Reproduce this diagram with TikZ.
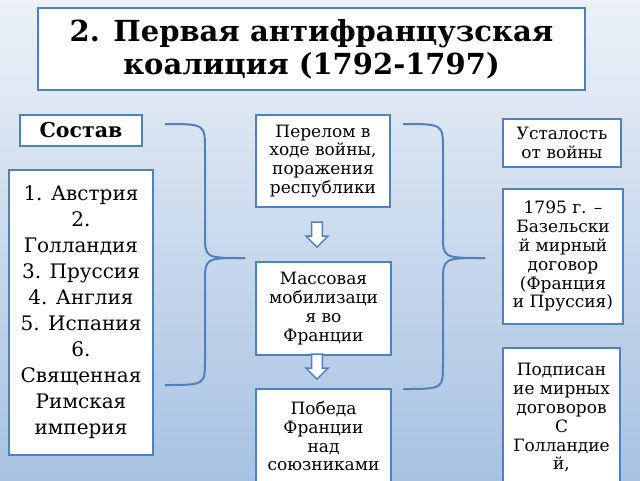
\documentclass[tikz,border=0pt]{standalone}
\usepackage{fontspec}
\setmainfont{DejaVu Serif}
\usetikzlibrary{shapes.arrows}
\definecolor{frameblue}{RGB}{79,129,189}
\definecolor{bgtop}{RGB}{236,241,248}
\definecolor{bgbottom}{RGB}{168,194,226}

\begin{document}
\begin{tikzpicture}[x=1pt,y=-1pt,semithick]
\tikzset{box/.style={draw=frameblue,line width=1.6pt,fill=white,align=center,inner sep=1pt},
         txt/.style={font=\fontsize{17}{18.8}\selectfont},
         brace/.style={draw=frameblue,line width=2pt},
         downarrow/.style={single arrow,draw=frameblue,fill=white,line width=1.5pt,
                           shape border rotate=270,minimum height=25pt,minimum width=22pt,
                           single arrow head extend=4pt,inner sep=3pt}}

  \shade[top color=bgtop,bottom color=bgbottom] (0,0) rectangle (640,480);
  \useasboundingbox (0,0) rectangle (640,480);

        \node[box,minimum width=547pt,minimum height=82pt,font=\fontsize{29}{33}\selectfont\bfseries]
              (title) at (311.5,49) {2. Первая антифранцузская\\коалиция (1792-1797)};

        \node[box,minimum width=122pt,minimum height=31pt,font=\fontsize{20.5}{22}\selectfont\bfseries]
              (sostav) at (81,130.5) {Состав};
        \node[box,minimum width=144pt,minimum height=285pt,font=\fontsize{20}{26}\selectfont]
              (list) at (81,312.5) {1. Австрия\\2.\\Голландия\\3. Пруссия\\4. Англия\\5. Испания\\6.\\Священная\\Римская\\империя};

        \node[box,txt,minimum width=134pt,minimum height=92pt]
              (perelom) at (323,161) {Перелом в\\ходе войны,\\поражения\\республики};
        \node[box,txt,minimum width=135pt,minimum height=93pt]
              (mobil) at (323.5,308.5) {Массовая\\мобилизаци\\я во\\Франции};
        \node[box,txt,minimum width=135pt,minimum height=95pt,anchor=north]
              (pobeda) at (323.5,388) {Победа\\Франции\\над\\союзниками};

        \node[box,txt,minimum width=118pt,minimum height=48pt]
              (ustal) at (562,143) {Усталость\\от войны};
        \node[box,txt,minimum width=120pt,minimum height=135pt]
              (basel) at (563,256.5) {1795 г. –\\Базельски\\й мирный\\договор\\(Франция\\и Пруссия)};
        \node[box,txt,minimum width=117pt,minimum height=140pt,anchor=north]
              (podpis) at (561.5,347) {Подписан\\ие мирных\\договоров\\С\\Голландие\\й,};

        \node[downarrow] (a1) at (317,232) {};
        \node[downarrow] (a2) at (317,364) {};

        % braces
        \coordinate (lb) at (245,258);
        \coordinate (rb) at (485,258);
        \draw[brace] (165,124) .. controls (205,124) .. (205,150) -- (205,235)
                     .. controls (205,258) .. (lb);
        \draw[brace] (lb) .. controls (205,258) .. (205,282) -- (205,360)
                     .. controls (205,385) .. (165,385);
        \draw[brace] (403,124) .. controls (443,124) .. (443,150) -- (443,235)
                     .. controls (443,258) .. (rb);
        \draw[brace] (rb) .. controls (443,258) .. (443,282) -- (443,364)
                     .. controls (443,389) .. (403,389);

\end{tikzpicture}
\end{document}
